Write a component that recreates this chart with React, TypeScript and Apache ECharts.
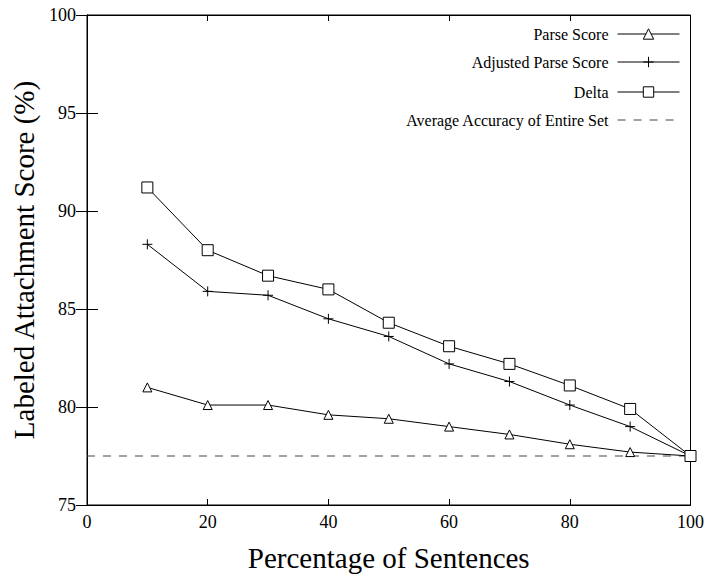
import React, { useEffect, useRef } from "react";
import * as echarts from "echarts";

const xValues = [10, 20, 30, 40, 50, 60, 70, 80, 90, 100];
const parseScore = [81.0, 80.1, 80.1, 79.6, 79.4, 79.0, 78.6, 78.1, 77.7, 77.5];
const adjustedScore = [88.3, 85.9, 85.7, 84.5, 83.6, 82.2, 81.3, 80.1, 79.0, 77.5];
const deltaScore = [91.2, 88.0, 86.7, 86.0, 84.3, 83.1, 82.2, 81.1, 79.9, 77.5];
const averageX = [0, 100];
const averageY = [77.5, 77.5];
const seriesNames = ["Parse Score", "Adjusted Parse Score", "Delta", "Average Accuracy of Entire Set"];

const FONT = "'Liberation Serif', 'DejaVu Serif', serif";

export default function App() {
  const ref = useRef<HTMLDivElement>(null);
  useEffect(() => {
    if (!ref.current) return;
    const chart = echarts.init(ref.current, undefined, { renderer: "svg" });
    const pair = (ys: number[], xs: number[]) => xs.map((x, i) => [x, ys[i]]);
    const markerStyle = { color: "#fff", borderColor: "#000", borderWidth: 1 };
    const lineStyle = { color: "#000", width: 1 };
    const legendTops = [26, 54, 84, 112];
    const axisLabel = { color: "#000", fontFamily: FONT, fontSize: 18 };
    chart.setOption({
      animation: false,
      backgroundColor: "#fff",
      textStyle: { fontFamily: FONT },
      grid: { left: 87, right: 15, top: 15, bottom: 72, show: true, borderColor: "#000", borderWidth: 1, backgroundColor: "transparent" },
      legend: seriesNames.map((n, i) => ({
        data: i === 3 ? [{ name: n, itemStyle: { opacity: 0 } }] : [n],
        orient: "vertical",
        right: 27,
        top: legendTops[i],
        padding: 0,
        align: "right",
        itemWidth: 62,
        itemHeight: 13,
        lineStyle: { width: 1 },
        itemStyle: { borderWidth: 1 },
        textStyle: { fontFamily: FONT, fontSize: 16, color: "#000", padding: [0, 4, 0, 0] },
        selectedMode: false,
      })),
      xAxis: [
        {
          type: "value", min: 0, max: 100, interval: 20, position: "bottom",
          name: "Percentage of Sentences", nameLocation: "middle", nameGap: 38,
          nameTextStyle: { fontFamily: FONT, fontSize: 29, color: "#000" },
          axisLine: { show: true, lineStyle: { color: "#000", width: 1 } },
          axisTick: { show: true, inside: true, length: 6, lineStyle: { color: "#000" } },
          axisLabel: { ...axisLabel, margin: 8 },
          splitLine: { show: false },
        },
        {
          type: "value", min: 0, max: 100, interval: 20, position: "top",
          axisLine: { show: true, lineStyle: { color: "#000", width: 1 } },
          axisTick: { show: true, inside: true, length: 6, lineStyle: { color: "#000" } },
          axisLabel: { show: false },
          splitLine: { show: false },
        },
      ],
      yAxis: [
        {
          type: "value", min: 75, max: 100, interval: 5, position: "left",
          name: "Labeled Attachment Score (%)", nameLocation: "middle", nameGap: 47,
          nameTextStyle: { fontFamily: FONT, fontSize: 29, color: "#000" },
          axisLine: { show: true, lineStyle: { color: "#000", width: 1 } },
          axisTick: { show: true, inside: true, length: 11, lineStyle: { color: "#000" } },
          axisLabel: { ...axisLabel, margin: 11 },
          splitLine: { show: false },
        },
        {
          type: "value", min: 75, max: 100, interval: 5, position: "right",
          axisLine: { show: true, lineStyle: { color: "#000", width: 1 } },
          axisTick: { show: true, inside: true, length: 11, lineStyle: { color: "#000" } },
          axisLabel: { show: false },
          splitLine: { show: false },
        },
      ],
      series: [
        {
          name: seriesNames[3], type: "line", data: pair(averageY, averageX),
          symbol: "none", lineStyle: { color: "#444", width: 1, type: [8, 8] },
          itemStyle: { color: "#444" }, z: 1,
        },
        {
          name: seriesNames[0], type: "line", data: pair(parseScore, xValues),
          symbol: "triangle", symbolSize: 9, itemStyle: markerStyle, lineStyle, z: 2,
        },
        {
          name: seriesNames[1], type: "line", data: pair(adjustedScore, xValues),
          symbol: "path://M5,0L5,10M0,5L10,5", symbolSize: 10, itemStyle: markerStyle, lineStyle, z: 3,
        },
        {
          name: seriesNames[2], type: "line", data: pair(deltaScore, xValues),
          symbol: "rect", symbolSize: 11, itemStyle: markerStyle, lineStyle, z: 4,
        },
      ],
    });
    return () => chart.dispose();
  }, []);
  return <div ref={ref} style={{ width: 707, height: 577, position: "absolute", left: 0, top: 0 }} />;
}
